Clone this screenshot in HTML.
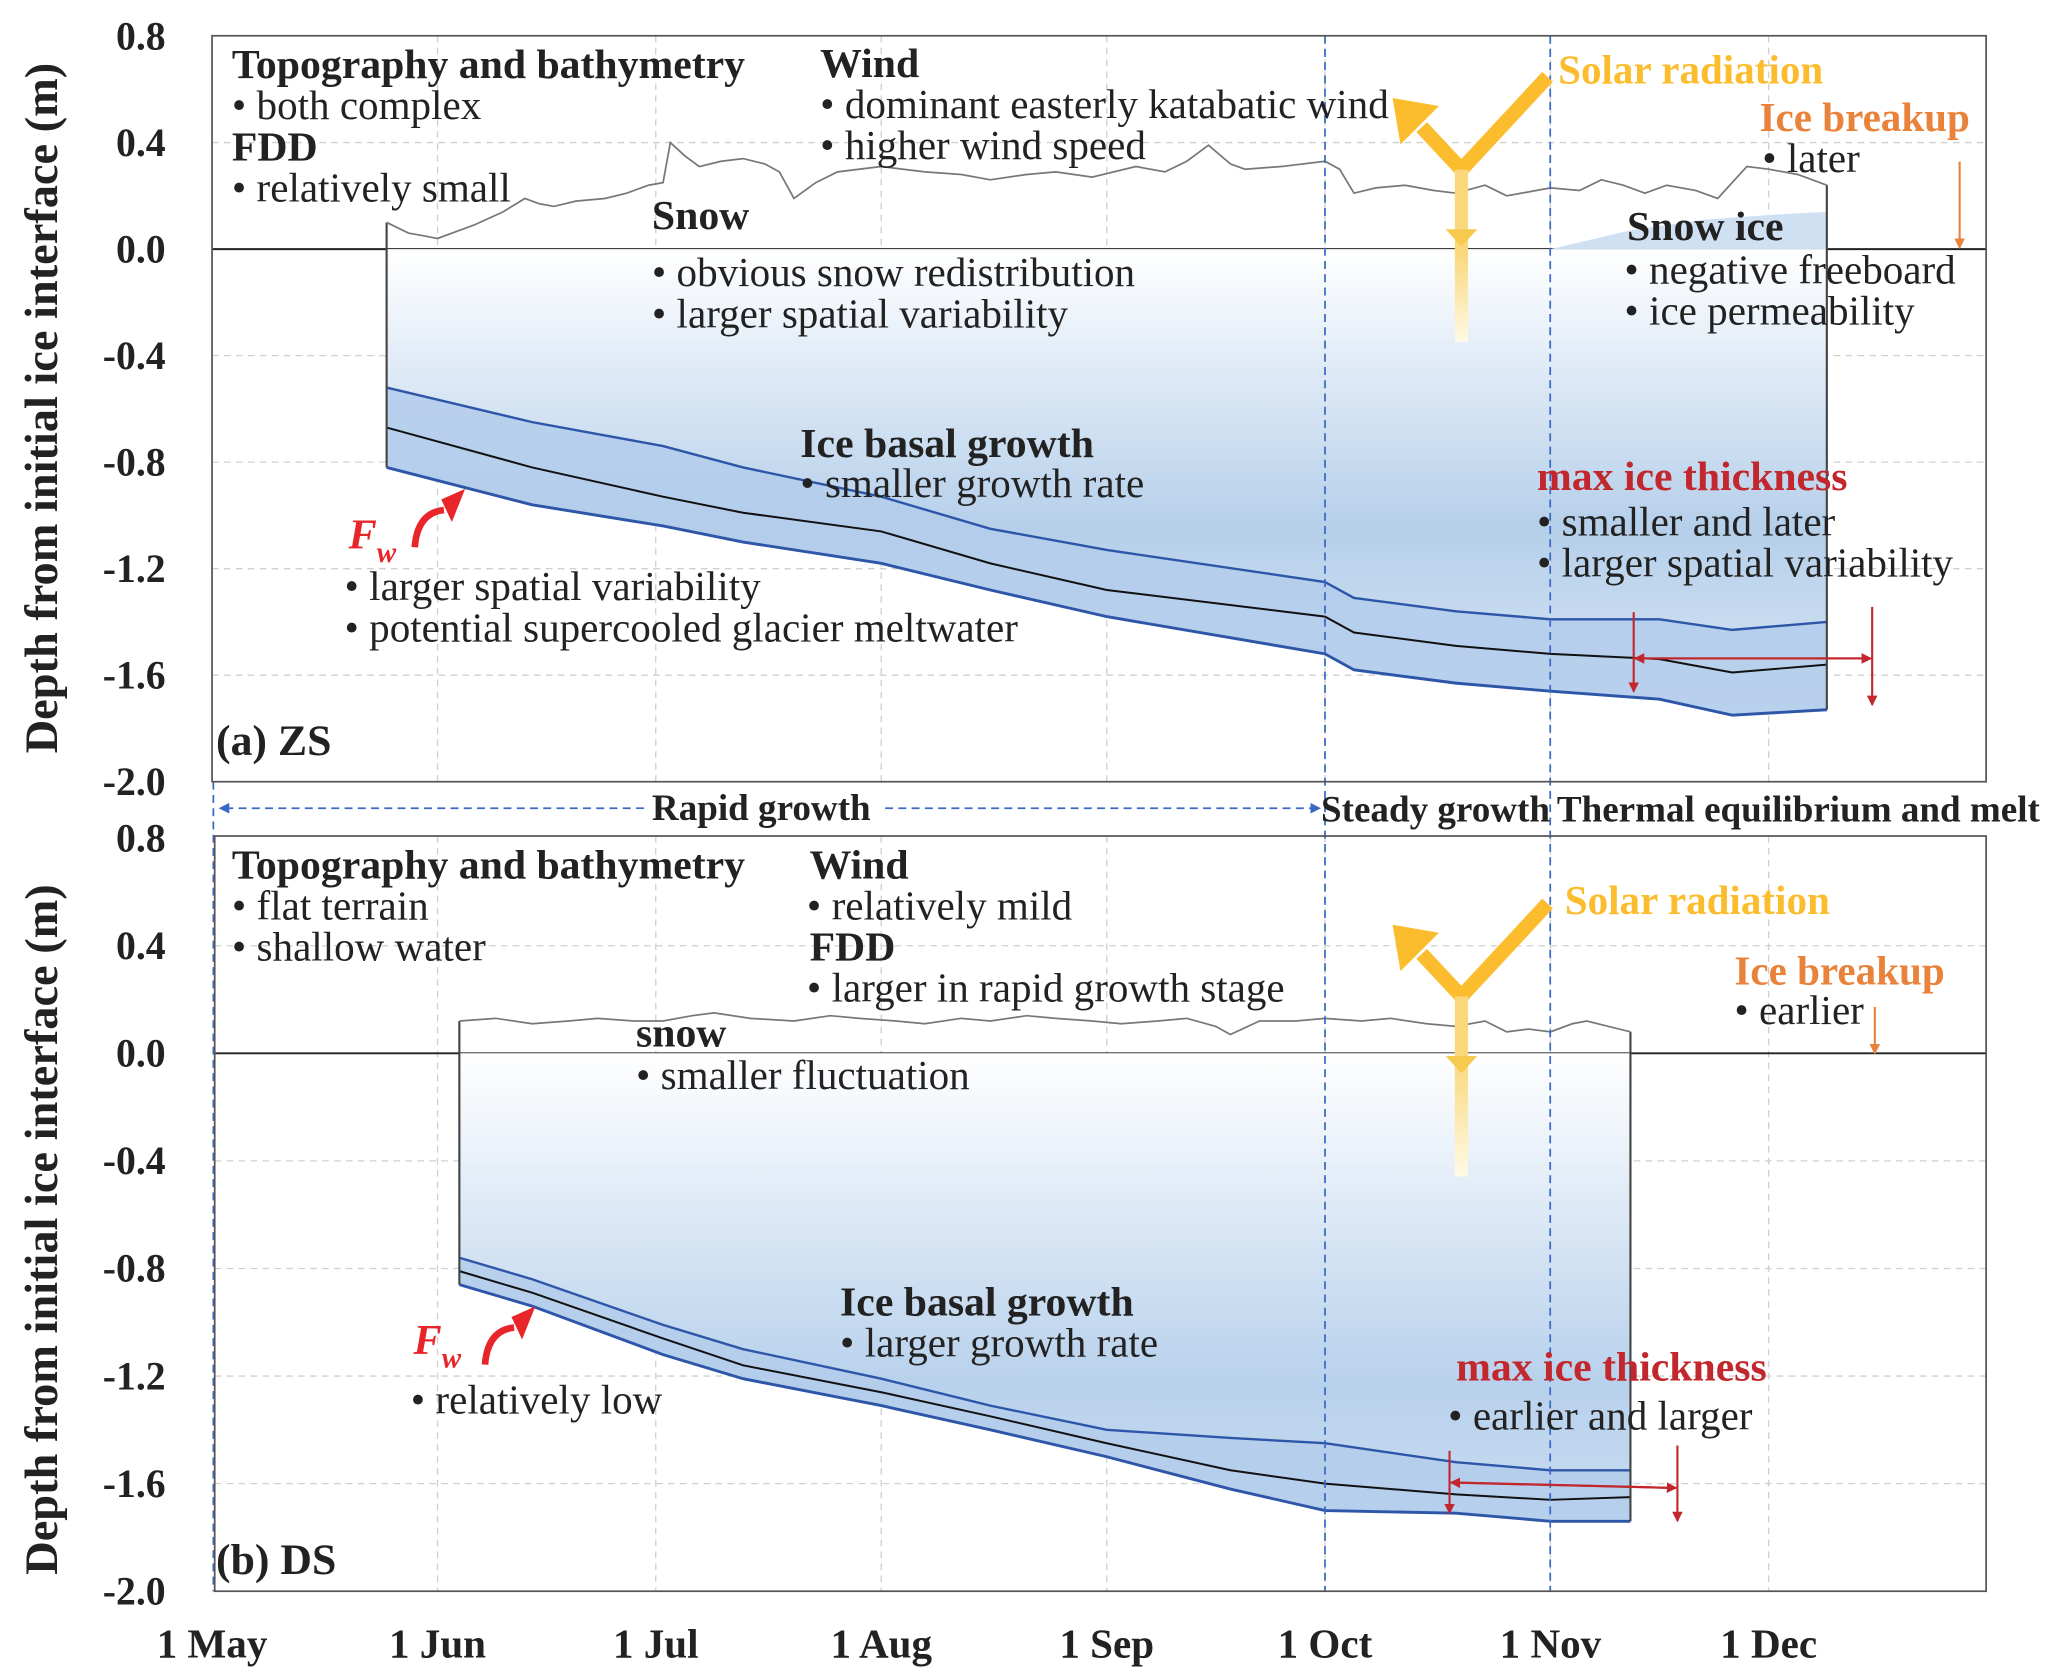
<!DOCTYPE html>
<html><head><meta charset="utf-8"><style>
html,body{margin:0;padding:0;background:#fff;}
svg{display:block;}
text{font-family:"Liberation Serif",serif;}
.b{font-weight:bold;}
</style></head><body>
<svg id="chart" width="2067" height="1680" viewBox="0 0 1560 1268" xmlns="http://www.w3.org/2000/svg">
<defs>
<linearGradient id="gA" x1="0" y1="188" x2="0" y2="540" gradientUnits="userSpaceOnUse">
<stop offset="0" stop-color="#ffffff"/><stop offset="0.6" stop-color="#b5cfea"/><stop offset="1" stop-color="#d9e7f5"/></linearGradient>
<linearGradient id="gB" x1="0" y1="795" x2="0" y2="1150" gradientUnits="userSpaceOnUse">
<stop offset="0" stop-color="#ffffff"/><stop offset="0.7" stop-color="#b8d1ec"/><stop offset="1" stop-color="#c9dcf1"/></linearGradient>
<linearGradient id="gS1" x1="0" y1="190" x2="0" y2="260" gradientUnits="userSpaceOnUse"><stop offset="0" stop-color="#f9d77a"/><stop offset="1" stop-color="#fffbe8"/></linearGradient>
<linearGradient id="gS2" x1="0" y1="797" x2="0" y2="890" gradientUnits="userSpaceOnUse"><stop offset="0" stop-color="#f9d77a"/><stop offset="1" stop-color="#fffbe8"/></linearGradient>
<marker id="mr" markerWidth="8" markerHeight="8" refX="7" refY="4" orient="auto" markerUnits="userSpaceOnUse"><path d="M0,0 L8,4 L0,8 z" fill="#c1272d"/></marker>
<marker id="mo" markerWidth="8" markerHeight="8" refX="7" refY="4" orient="auto" markerUnits="userSpaceOnUse"><path d="M0,0 L8,4 L0,8 z" fill="#e9823a"/></marker>
<marker id="mb" markerWidth="8" markerHeight="8" refX="7" refY="4" orient="auto" markerUnits="userSpaceOnUse"><path d="M0,0 L8,4 L0,8 z" fill="#3a68c4"/></marker>
</defs>
<g id="grid"></g>
<g id="plot"></g>
<g id="annot"></g>
</svg>
<script>
// ---- data ----
const monthLabels = ["1 May","1 Jun","1 Jul","1 Aug","1 Sep","1 Oct","1 Nov","1 Dec"];
const monthDays = [0,31,61,92,123,153,184,214];
const yTickLabels = ["0.8","0.4","0.0","-0.4","-0.8","-1.2","-1.6","-2.0"];
const yTickValues = [0.8,0.4,0,-0.4,-0.8,-1.2,-1.6,-2.0];

const daysA = [24,44,62,73,92,107,123,153,157,171,184,199,209,222];
const upperA = [-0.52,-0.65,-0.74,-0.82,-0.93,-1.05,-1.13,-1.25,-1.31,-1.36,-1.39,-1.39,-1.43,-1.40];
const meanA  = [-0.67,-0.82,-0.93,-0.99,-1.06,-1.18,-1.28,-1.38,-1.44,-1.49,-1.52,-1.54,-1.59,-1.56];
const lowerA = [-0.82,-0.96,-1.04,-1.10,-1.18,-1.28,-1.38,-1.52,-1.58,-1.63,-1.66,-1.69,-1.75,-1.73];
const snowDaysA = [24,27,29,31,33,36,40,43,45,47,50,54,57,60,62,63,65,67,70,73,76,78,80,83,86,92,98,103,107,112,116,121,127,131,134,137,140,142,147,153,155,157,160,164,168,171,175,178,184,188,191,194,197,200,204,207,211,214,218,222];
const snowA = [0.10,0.06,0.05,0.04,0.06,0.09,0.14,0.19,0.17,0.16,0.18,0.19,0.21,0.24,0.25,0.40,0.35,0.31,0.33,0.34,0.32,0.29,0.19,0.25,0.29,0.31,0.29,0.28,0.26,0.28,0.29,0.27,0.31,0.29,0.33,0.39,0.32,0.30,0.31,0.33,0.30,0.21,0.23,0.24,0.22,0.21,0.24,0.20,0.23,0.22,0.26,0.24,0.21,0.24,0.22,0.19,0.31,0.30,0.28,0.24];
const snowIceDays = [184,195,205,215,222];
const snowIceTop = [0.0,0.07,0.11,0.13,0.14];

const daysB = [34,44,62,73,92,107,123,140,153,171,184,195];
const upperB = [-0.76,-0.84,-1.01,-1.10,-1.21,-1.31,-1.40,-1.43,-1.45,-1.52,-1.55,-1.55];
const meanB  = [-0.81,-0.89,-1.06,-1.16,-1.26,-1.35,-1.45,-1.55,-1.60,-1.64,-1.66,-1.65];
const lowerB = [-0.86,-0.94,-1.12,-1.21,-1.31,-1.40,-1.50,-1.62,-1.70,-1.71,-1.74,-1.74];
const snowDaysB = [34,39,44,49,53,58,62,66,69,74,80,85,89,94,98,103,107,112,116,121,125,130,134,138,140,144,149,153,158,162,167,171,175,178,181,184,187,189,192,195];
const snowB = [0.12,0.13,0.11,0.12,0.13,0.12,0.12,0.14,0.15,0.13,0.12,0.14,0.13,0.12,0.11,0.13,0.12,0.14,0.13,0.12,0.11,0.12,0.13,0.10,0.07,0.12,0.12,0.13,0.12,0.13,0.11,0.10,0.12,0.08,0.09,0.08,0.11,0.12,0.10,0.08];

// ---- axes ----
const X0=160, PXD=5.49;
const x = d => X0 + d*PXD;
const yA = v => 188 - v*201;
const yB = v => 795 - v*203;
const NS="http://www.w3.org/2000/svg";
function el(tag, attrs, parent, txt){
  const e=document.createElementNS(NS,tag);
  for(const k in attrs) e.setAttribute(k,attrs[k]);
  if(txt!==undefined) e.textContent=txt;
  parent.appendChild(e); return e;
}
const grid=document.getElementById('grid'), plot=document.getElementById('plot'), ann=document.getElementById('annot');

function line(xs, vs, fy){ return xs.map((d,i)=>(i?'L':'M')+x(d).toFixed(1)+','+fy(vs[i]).toFixed(1)).join(' '); }
function rev(xs, vs, fy){ return xs.slice().reverse().map((d,i)=>'L'+x(d).toFixed(1)+','+fy(vs[xs.length-1-i]).toFixed(1)).join(' '); }

function panel(fy, top, bot, left, name){
  monthDays.forEach((d,i)=>{ if(i>0){
    const g=el('line',{x1:x(d),x2:x(d),y1:top,y2:bot,stroke:'#d0d0d0','stroke-width':1,'stroke-dasharray':'5,4'},grid);
     
  }});
  yTickValues.forEach((v,i)=>{
    const yy=fy(v);
    if(v!==0 && i>0 && i<yTickValues.length-1){
      const g=el('line',{x1:left,x2:1499,y1:yy,y2:yy,stroke:'#d0d0d0','stroke-width':1,'stroke-dasharray':'5,4'},grid);
       
    }
    const t=el('text',{x:125,y:yy+10,'text-anchor':'end','font-size':30,class:'b',fill:'#222'},ann,yTickLabels[i]);
     
  });
  const fr=el('rect',{x:left,y:top,width:1499-left,height:bot-top,fill:'none',stroke:'#555','stroke-width':1.3},ann);
   
  const z=el('line',{x1:left,x2:1499,y1:fy(0),y2:fy(0),stroke:'#222','stroke-width':1.5},plot);
   
}
panel(yA,27,590,160,'panel-a');
panel(yB,631,1201,162,'panel-b');

function ice(days, up, mn, lo, snowD, snow, fy, grad, name){
  const d0=days[0], d1=days[days.length-1];
  const body=el('path',{d:'M'+x(d0)+','+fy(0)+' '+line(days,lo,fy).replace('M','L')+' L'+x(d1)+','+fy(0)+' Z',fill:'url(#'+grad+')'},plot);
   
  const band=el('path',{d:line(days,up,fy)+' '+rev(days,lo,fy)+' Z',fill:'#b3cdeb',opacity:0.85},plot);
   
  const u=el('path',{d:line(days,up,fy),fill:'none',stroke:'#2e56a8','stroke-width':1.8},plot);
   
  const l=el('path',{d:line(days,lo,fy),fill:'none',stroke:'#2e56a8','stroke-width':2.2},plot);
   
  const m=el('path',{d:line(days,mn,fy),fill:'none',stroke:'#111','stroke-width':1.5},plot);
   
  const sides=el('path',{d:'M'+x(d0)+','+fy(snow[0])+' L'+x(d0)+','+fy(lo[0])+' M'+x(d1)+','+fy(snow[snow.length-1])+' L'+x(d1)+','+fy(lo[lo.length-1]),stroke:'#444','stroke-width':1.6,fill:'none'},plot);
   
  const s=el('path',{d:line(snowD,snow,fy),fill:'none',stroke:'#777','stroke-width':1.3},plot);
   
}
const si=el('path',{d:line(snowIceDays,snowIceTop,yA)+' L'+x(222)+','+yA(0)+' Z',fill:'#cfe0f3'},plot);
 
ice(daysA,upperA,meanA,lowerA,snowDaysA,snowA,yA,'gA','panel-a');
ice(daysB,upperB,meanB,lowerB,snowDaysB,snowB,yB,'gB','panel-b');

[1000,1170].forEach(xx=>{
  const v=el('line',{x1:xx,x2:xx,y1:27,y2:1201,stroke:'#3a68c4','stroke-width':1.3,'stroke-dasharray':'6,4'},plot);
   
});
const lv=el('line',{x1:161,x2:161,y1:590,y2:1201,stroke:'#3a68c4','stroke-width':1.3,'stroke-dasharray':'6,4'},plot);
 
const ra1=el('line',{x1:486,x2:166,y1:610,y2:610,stroke:'#3a68c4','stroke-width':1.3,'stroke-dasharray':'6,4','marker-end':'url(#mb)'},plot);
 
const ra2=el('line',{x1:668,x2:996,y1:610,y2:610,stroke:'#3a68c4','stroke-width':1.3,'stroke-dasharray':'6,4','marker-end':'url(#mb)'},plot);
 

function solar(cx, cy, downEnd, grad, name){
  const g=el('g',{},plot);
   
  el('path',{d:'M'+(cx+65)+','+(cy-70)+' L'+cx+','+cy+' L'+(cx-30)+','+(cy-32),stroke:'#fbbd2e','stroke-width':11,fill:'none','stroke-linejoin':'miter'},g);
  el('path',{d:'M'+(cx-52)+','+(cy-54)+' L'+(cx-17)+','+(cy-48)+' L'+(cx-46)+','+(cy-19)+' Z',fill:'#fbbd2e'},g);
  el('rect',{x:cx-5,y:cy,width:10,height:downEnd-cy,fill:'url(#'+grad+')'},g);
  el('path',{d:'M'+(cx-12)+','+(cy+45)+' L'+(cx+12)+','+(cy+45)+' L'+cx+','+(cy+58)+' Z',fill:'#f6c94f'},g);
}
solar(1103,128,258,'gS1','solar-arrow-a');
solar(1103,752,888,'gS2','solar-arrow-b');

function arr(x1,y1,x2,y2,m,name,col){
  const a=el('line',{x1,y1,x2,y2,stroke:col,'stroke-width':1.6,'marker-end':'url(#'+m+')'},plot);
   
}
arr(1233,462,1233,522,'mr','max-thickness-arrow-a1','#c1272d');
arr(1413,458,1413,532,'mr','max-thickness-arrow-a2','#c1272d');
arr(1240,497,1412,497,'mr','spread-arrow-a-right','#c1272d');
arr(1406,497,1234,497,'mr','spread-arrow-a-left','#c1272d');
arr(1094,1095,1094,1142,'mr','max-thickness-arrow-b1','#c1272d');
arr(1266,1091,1266,1148,'mr','max-thickness-arrow-b2','#c1272d');
arr(1100,1119,1265,1123,'mr','spread-arrow-b-right','#c1272d');
arr(1260,1123,1095,1119,'mr','spread-arrow-b-left','#c1272d');
arr(1479,122,1479,187,'mo','ice-breakup-arrow-a','#e9823a');
arr(1415,760,1415,795,'mo','ice-breakup-arrow-b','#e9823a');

function fw(x0,y0,name){
  const g=el('g',{},plot);
   
  el('path',{d:'M'+x0+','+(y0+38)+' Q'+(x0+2)+','+(y0+12)+' '+(x0+22)+','+(y0+10),stroke:'#e8262a','stroke-width':5,fill:'none'},g);
  el('path',{d:'M'+(x0+20)+','+(y0+2)+' L'+(x0+38)+','+(y0-6)+' L'+(x0+28)+','+(y0+19)+' Z',fill:'#e8262a'},g);
}
fw(313,375,'fw-arrow-a');
fw(366,992,'fw-arrow-b');

const texts = [
 [175,59,31.5,'b','#222','Topography and bathymetry','topo-title-a'],
 [175,90,31,'','#222','• both complex','topo-bullet-a'],
 [175,121,31.5,'b','#222','FDD','fdd-title-a'],
 [175,152,31,'','#222','• relatively small','fdd-bullet-a'],
 [619,58,31.5,'b','#222','Wind','wind-title-a'],
 [619,89,31,'','#222','• dominant easterly katabatic wind','wind-bullet-a1'],
 [619,120,31,'','#222','• higher wind speed','wind-bullet-a2'],
 [1176,63,31,'b','#fbbd2e','Solar radiation','solar-label-a'],
 [1328,99,31,'b','#e9823a','Ice breakup','breakup-title-a'],
 [1330,130,31,'','#222','• later','breakup-bullet-a'],
 [492,173,31.5,'b','#222','Snow','snow-title-a'],
 [492,216,31,'','#222','• obvious snow redistribution','snow-bullet-a1'],
 [492,247,31,'','#222','• larger spatial variability','snow-bullet-a2'],
 [1228,181,31.5,'b','#222','Snow ice','snowice-title'],
 [1226,214,31,'','#222','• negative freeboard','snowice-bullet-1'],
 [1226,245,31,'','#222','• ice permeability','snowice-bullet-2'],
 [604,345,31.5,'b','#222','Ice basal growth','basal-title-a'],
 [604,375,31,'','#222','• smaller growth rate','basal-bullet-a'],
 [1160,370,31.5,'b','#c1272d','max ice thickness','maxthick-title-a'],
 [1160,404,31,'','#222','• smaller and later','maxthick-bullet-a1'],
 [1160,435,31,'','#222','• larger spatial variability','maxthick-bullet-a2'],
 [260,453,31,'','#222','• larger spatial variability','fw-bullet-a1'],
 [260,484,31,'','#222','• potential supercooled glacier meltwater','fw-bullet-a2'],
 [163,570,33,'b','#222','(a)  ZS','panel-a-label'],
 [492,619,28,'b','#222','Rapid growth','stage-rapid'],
 [997,620,28,'b','#222','Steady growth','stage-steady'],
 [1175,620,28,'b','#222','Thermal equilibrium and melt','stage-thermal'],
 [175,663,31.5,'b','#222','Topography and bathymetry','topo-title-b'],
 [175,694,31,'','#222','• flat terrain','topo-bullet-b1'],
 [175,725,31,'','#222','• shallow water','topo-bullet-b2'],
 [611,663,31.5,'b','#222','Wind','wind-title-b'],
 [609,694,31,'','#222','•  relatively mild','wind-bullet-b'],
 [611,725,31.5,'b','#222','FDD','fdd-title-b'],
 [609,756,31,'','#222','•  larger in rapid growth stage','fdd-bullet-b'],
 [1181,690,31,'b','#fbbd2e','Solar radiation','solar-label-b'],
 [1309,743,31,'b','#e9823a','Ice breakup','breakup-title-b'],
 [1309,773,31,'','#222','• earlier','breakup-bullet-b'],
 [480,790,31.5,'b','#222','snow','snow-title-b'],
 [480,822,31,'','#222','• smaller fluctuation','snow-bullet-b'],
 [634,993,31.5,'b','#222','Ice basal growth','basal-title-b'],
 [634,1024,31,'','#222','• larger growth rate','basal-bullet-b'],
 [1099,1042,31.5,'b','#c1272d','max ice thickness','maxthick-title-b'],
 [1093,1079,31,'','#222','• earlier and larger','maxthick-bullet-b'],
 [310,1067,31,'','#222','• relatively low','fw-bullet-b'],
 [163,1188,33,'b','#222','(b)  DS','panel-b-label'],
];
texts.forEach(t=>{
  const e=el('text',{x:t[0],y:t[1],'font-size':t[2],fill:t[4],class:t[3]},ann,t[5]);
   
});
[[263,414,'fw-label-a'],[312,1022,'fw-label-b']].forEach(p=>{
  const e=el('text',{x:p[0],y:p[1],'font-size':32,fill:'#e8262a','font-style':'italic',class:'b'},ann);
   
  el('tspan',{},e,'F'); el('tspan',{dy:10,'font-size':22},e,'w');
});
monthLabels.forEach((m,i)=>{
  const e=el('text',{x:x(monthDays[i]),y:1251,'text-anchor':'middle','font-size':31,class:'b',fill:'#222'},ann,m);
   
});
[[308,'y-axis-title-a'],[928,'y-axis-title-b']].forEach(p=>{
  const e=el('text',{x:0,y:0,transform:'translate(43,'+p[0]+') rotate(-90)','text-anchor':'middle','font-size':35,class:'b',fill:'#222'},ann,'Depth from initial ice interface (m)');
   
});
</script>
</body></html>
